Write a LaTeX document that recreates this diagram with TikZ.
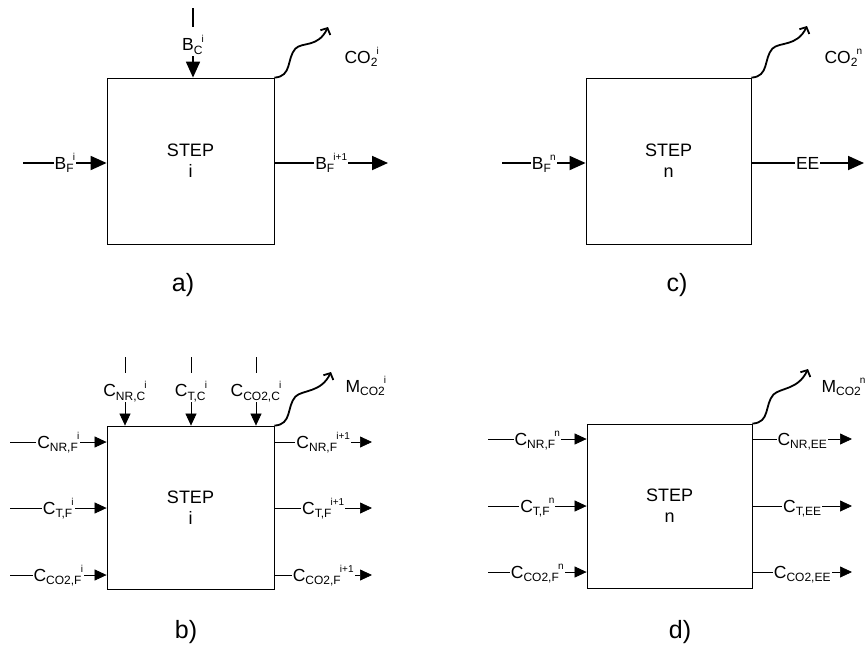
\documentclass[tikz,border=0pt]{standalone}
\usepackage{fontspec}
\setmainfont{Liberation Sans}
\usetikzlibrary{positioning, arrows.meta, calc}

\newcommand\labfont{\fontsize{17.5}{17.5}\selectfont}
\newcommand\subtxt[1]{\raisebox{-3.5pt}{\fontsize{12}{12}\selectfont #1}}
\newcommand\suptxt[1]{\kern-0.8pt\raisebox{8.5pt}{\fontsize{10}{10}\selectfont #1}}

\tikzset{
  stepbox/.style={draw, line width=0.8pt, align=center,
    font=\fontsize{18}{21}\selectfont, inner sep=0pt},
  bigflow/.style={line width=1.8pt, -{Triangle[length=16pt,width=14pt]}},
  smallflow/.style={line width=0.7pt, -{Triangle[length=12pt,width=11pt]}},
  lab/.style={fill=white, font=\labfont, inner xsep=1pt, inner ysep=0pt,
    text height=12pt, text depth=0pt},
  vlab/.style={lab, anchor=base, text height=24pt, text depth=5pt},
  co2wave/.style={line width=1.8pt, -{Straight Barb[length=5pt,width=11pt]}},
  caption/.style={font=\fontsize{25}{25}\selectfont},
}

\begin{document}
\begin{tikzpicture}[x=1pt, y=-1pt]
  \useasboundingbox (0,0) rectangle (865,649);

  % --- a) single step i
  \node[stepbox, minimum width=167pt, minimum height=166pt] (A) at (190.5,161) {STEP\\i};
  \coordinate (ain) at (23,163);
  \coordinate (aout) at (388,163);
  \coordinate (atop) at (193,8);
  \coordinate (aco2) at (328,27);
  \draw[bigflow] (ain) -- (ain -| A.west) node[lab, midway] (ainl) {B\subtxt{F}\suptxt{i}};
  \draw[bigflow] (aout -| A.east) -- (aout) node[lab, midway] (aoutl) {B\subtxt{F}\suptxt{i+1}};
  \draw[bigflow] (atop) -- (atop |- A.north) node[vlab, pos=0.614] (atopl) {B\subtxt{C}\suptxt{i}};
  \draw[co2wave] (A.north east) .. controls +(18,-1) and +(-9,10) .. ++(21,-29)
    .. controls +(7,-7) and +(-10,21) .. (aco2);
  \node[anchor=base west, font=\labfont] (aco2l) at (341,63) {CO\subtxt{2}\suptxt{i}};
  \node[caption] (acap) at (183,285) {a)};

  % --- c) last step n
  \node[stepbox, minimum width=165pt, minimum height=166pt] (C) at (668.5,161) {STEP\\n};
  \coordinate (cin) at (502,163);
  \coordinate (cout) at (864,163);
  \coordinate (cco2) at (807,26);
  \draw[bigflow] (cin) -- (cin -| C.west) node[lab, midway] (cinl) {B\subtxt{F}\suptxt{n}};
  \draw[bigflow] (cout -| C.east) -- (cout) node[lab, midway] (coutl) {EE};
  \draw[co2wave] (C.north east) .. controls +(18,-1) and +(-9,10) .. ++(21,-29)
    .. controls +(7,-7) and +(-10,21) .. (cco2);
  \node[anchor=base west, font=\labfont] (cco2l) at (821,63) {CO\subtxt{2}\suptxt{n}};
  \node[caption] (ccap) at (677,285) {c)};

  % --- b) step i, by component
  \node[stepbox, minimum width=167pt, minimum height=163pt] (B) at (190.5,507.5) {STEP\\i};
  \foreach \k/\yy/\lin/\lout in
    {1/442/{C\subtxt{NR,F}\suptxt{i}}/{C\subtxt{NR,F}\suptxt{i+1}},
     2/508/{C\subtxt{T,F}\suptxt{i}}/{C\subtxt{T,F}\suptxt{i+1}},
     3/575/{C\subtxt{CO2,F}\suptxt{i}}/{C\subtxt{CO2,F}\suptxt{i+1}}}{
    \coordinate (bin\k) at (10,\yy);
    \coordinate (bout\k) at (372,\yy);
    \draw[smallflow] (bin\k) -- (bin\k -| B.west) node[lab, midway] (binl\k) {\lin};
    \draw[smallflow] (bout\k -| B.east) -- (bout\k) node[lab, midway] (boutl\k) {\lout};
  }
  \foreach \k/\xx/\ltop in
    {1/125/{C\subtxt{NR,C}\suptxt{i}},
     2/191/{C\subtxt{T,C}\suptxt{i}},
     3/256/{C\subtxt{CO2,C}\suptxt{i}}}{
    \coordinate (btop\k) at (\xx,357);
    \draw[smallflow] (btop\k) -- (btop\k |- B.north) node[vlab, pos=0.58] (btopl\k) {\ltop};
  }
  \coordinate (bco2) at (331,372);
  \draw[co2wave] (B.north east) .. controls +(18,-1) and +(-9,10) .. ++(21,-29)
    .. controls +(7,-7) and +(-10,21) .. (bco2);
  \node[anchor=base west, font=\labfont] (bco2l) at (342,392) {M\subtxt{CO2}\suptxt{i}};
  \node[caption] (bcap) at (186,632) {b)};

  % --- d) last step n, by component
  \node[stepbox, minimum width=165pt, minimum height=164pt] (D) at (669.5,506) {STEP\\n};
  \foreach \k/\yy/\lin/\lout in
    {1/439/{C\subtxt{NR,F}\suptxt{n}}/{C\subtxt{NR,EE}},
     2/506/{C\subtxt{T,F}\suptxt{n}}/{C\subtxt{T,EE}},
     3/572/{C\subtxt{CO2,F}\suptxt{n}}/{C\subtxt{CO2,EE}}}{
    \coordinate (din\k) at (488,\yy);
    \coordinate (dout\k) at (852,\yy);
    \draw[smallflow] (din\k) -- (din\k -| D.west) node[lab, midway] (dinl\k) {\lin};
    \draw[smallflow] (dout\k -| D.east) -- (dout\k) node[lab, midway] (doutl\k) {\lout};
  }
  \coordinate (dco2) at (808,369);
  \draw[co2wave] (D.north east) .. controls +(18,-1) and +(-9,10) .. ++(21,-29)
    .. controls +(7,-7) and +(-10,21) .. (dco2);
  \node[anchor=base west, font=\labfont] (dco2l) at (818,392) {M\subtxt{CO2}\suptxt{n}};
  \node[caption] (dcap) at (680,632) {d)};
\end{tikzpicture}
\end{document}
